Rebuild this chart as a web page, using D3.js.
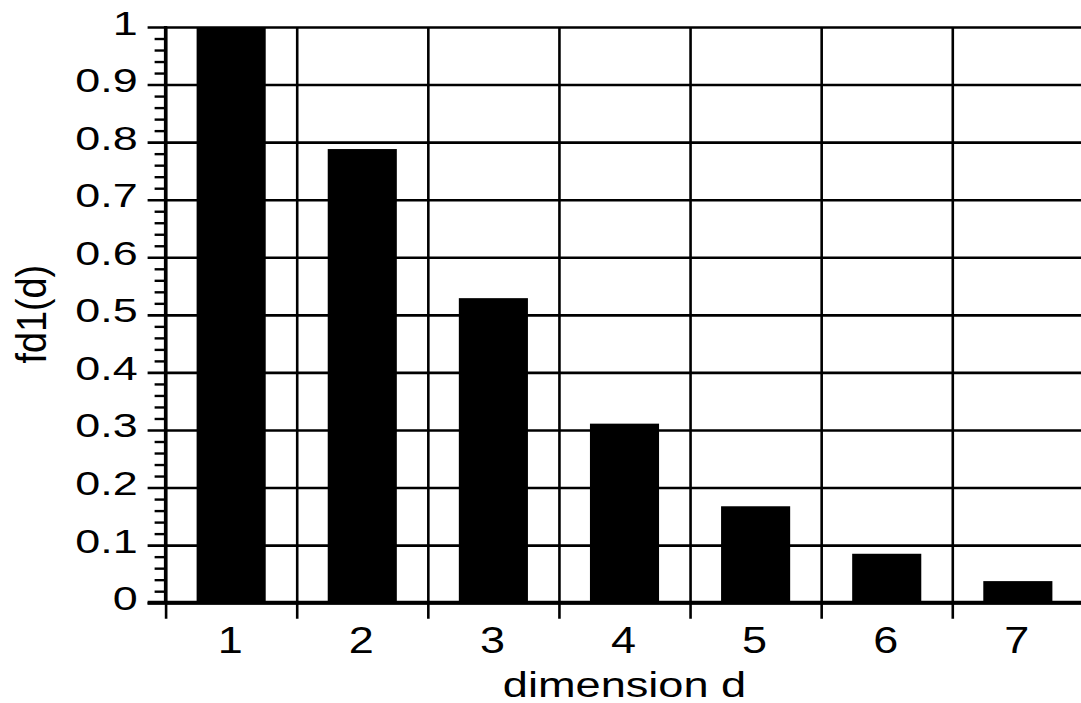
<!DOCTYPE html>
<html>
<head>
<meta charset="utf-8">
<script src="https://cdn.jsdelivr.net/npm/d3@7"></script>
<style>
  html, body { margin: 0; padding: 0; background: #fff; overflow: hidden; }
  text { font-family: "Liberation Sans", Arial, sans-serif; fill: #000; }
</style>
</head>
<body>
<div id="chart"></div>
<script>
const categories = ["1", "2", "3", "4", "5", "6", "7"];
const values = [1, 0.788, 0.529, 0.311, 0.1675, 0.085, 0.0375];
const yTicks = [0, 0.1, 0.2, 0.3, 0.4, 0.5, 0.6, 0.7, 0.8, 0.9, 1];
const yTickLabels = ["0", "0.1", "0.2", "0.3", "0.4", "0.5", "0.6", "0.7", "0.8", "0.9", "1"];
const xTitle = "dimension d";
const yTitle = "fd1(d)";

const width = 1081;
const height = 703;
const plotLeft = 165.6, plotRight = 1083.4, plotTop = 27, plotBottom = 602.7;

const svg = d3.select("#chart").append("svg")
  .attr("width", width)
  .attr("height", height);

const x = d3.scaleBand().domain(categories).range([plotLeft, plotRight]);
const xEdge = d3.scaleLinear().domain([0, categories.length]).range([plotLeft, plotRight]);
const y = d3.scaleLinear().domain([0, 1]).range([plotBottom, plotTop]);

// minor ticks every 0.02
const minorTicks = d3.range(0, 50).map((i) => i / 50).filter((v, i) => i % 5 !== 0);
svg.append("g")
  .attr("transform", `translate(${plotLeft},0)`)
  .call(d3.axisLeft(y).tickValues(minorTicks).tickSize(11).tickFormat(""))
  .call((g) => g.select(".domain").remove())
  .selectAll("line")
    .attr("stroke", "#000")
    .attr("stroke-width", 2.4);

// horizontal grid + major ticks
svg.append("g")
  .attr("transform", `translate(${plotLeft},0)`)
  .call(d3.axisLeft(y).tickValues(yTicks).tickSizeInner(-(plotRight - plotLeft)).tickSizeOuter(0).tickFormat(""))
  .call((g) => g.select(".domain").remove())
  .selectAll("line")
    .attr("x1", -18)
    .attr("stroke", "#000")
    .attr("stroke-width", 2.6);

// vertical grid + x ticks at category edges
svg.append("g")
  .attr("transform", `translate(0,${plotBottom})`)
  .call(d3.axisBottom(xEdge).tickValues(d3.range(0, categories.length + 1)).tickSizeOuter(0).tickFormat(""))
  .call((g) => g.select(".domain").remove())
  .selectAll("line")
    .attr("y1", 16)
    .attr("y2", -(plotBottom - plotTop))
    .attr("stroke", "#000")
    .attr("stroke-width", 2.6);

// bars
const barW = x.bandwidth() * 0.527;
svg.append("g").selectAll("rect").data(values).enter().append("rect")
  .attr("x", (d, i) => x(categories[i]) + (x.bandwidth() - barW) / 2)
  .attr("y", (d) => y(d))
  .attr("width", barW)
  .attr("height", (d) => y(0) - y(d))
  .style("fill", "#000");

// axis lines
svg.append("line")
  .attr("x1", plotLeft).attr("x2", plotLeft)
  .attr("y1", y(1) - 1).attr("y2", y(0))
  .attr("stroke", "#000").attr("stroke-width", 3.4);
svg.append("line")
  .attr("x1", plotLeft - 18).attr("x2", plotRight)
  .attr("y1", y(0)).attr("y2", y(0))
  .attr("stroke", "#000").attr("stroke-width", 4);

// y tick labels
svg.append("g").selectAll("text").data(yTicks).enter().append("text")
  .attr("transform", (d) => `translate(${plotLeft - 28},${y(d) + 7.5}) scale(1.36,1)`)
  .attr("text-anchor", "end")
  .style("font-size", "33px")
  .text((d, i) => yTickLabels[i]);

// x tick labels
svg.append("g").selectAll("text").data(categories).enter().append("text")
  .attr("transform", (d) => `translate(${x(d) + x.bandwidth() / 2 - 1},${plotBottom + 50.3}) scale(1.25,1)`)
  .attr("text-anchor", "middle")
  .style("font-size", "36px")
  .text((d) => d);

// axis titles
svg.append("text")
  .attr("transform", `translate(${(plotLeft + plotRight) / 2},696.7) scale(1.29,1)`)
  .attr("text-anchor", "middle")
  .style("font-size", "35px")
  .text(xTitle);

svg.append("text")
  .attr("transform", `translate(46,314.2) rotate(-90) scale(1.26,1.42)`)
  .attr("text-anchor", "middle")
  .style("font-size", "30px")
  .text(yTitle);
</script>
</body>
</html>
